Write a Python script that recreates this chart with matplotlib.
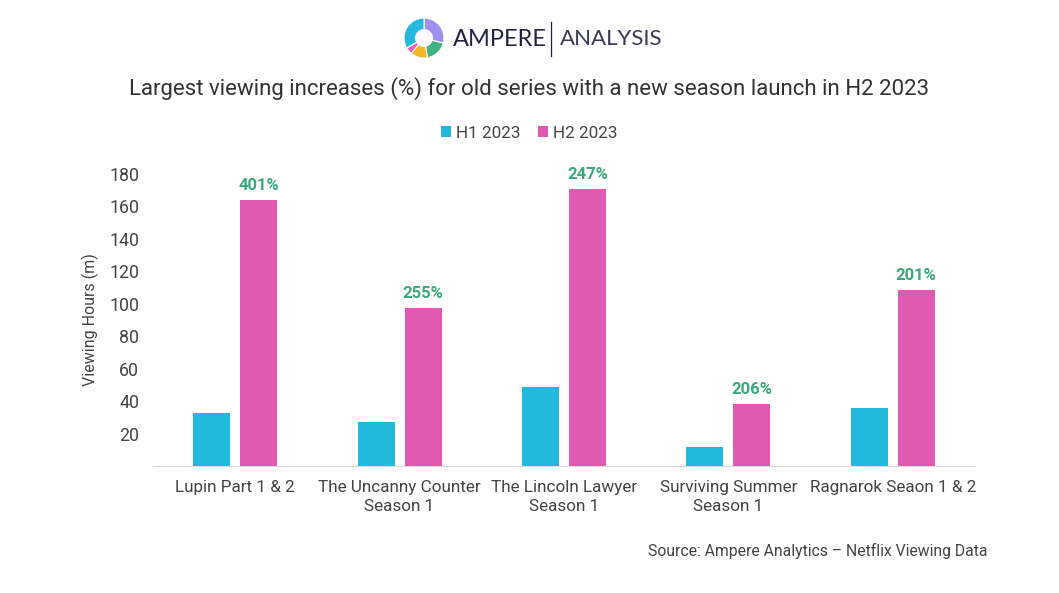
import matplotlib
matplotlib.use("Agg")
import matplotlib.pyplot as plt
import numpy as np

plt.rcParams["font.family"] = ["Roboto", "DejaVu Sans"]

# Data
categories = ["Lupin Part 1 & 2", "The Uncanny Counter\nSeason 1", "The Lincoln Lawyer\nSeason 1",
              "Surviving Summer\nSeason 1", "Ragnarok Seaon 1 & 2"]
h1_2023 = [32.5, 27, 48.5, 12, 35.5]
h2_2023 = [164, 97.5, 170.5, 38, 108.5]
increase_labels = ["401%", "255%", "247%", "206%", "201%"]
series_names = ["H1 2023", "H2 2023"]
yticks = [20, 40, 60, 80, 100, 120, 140, 160, 180]

# logo donut segments (degrees, colour)
logo_sizes = [105, 65, 50, 20, 120]
logo_colors = ["#a18ff0", "#3fb27f", "#f3b723", "#ea5fb9", "#24b9dc"]

C_H1 = "#22b8dc"
C_H2 = "#e05ab1"
C_LBL = "#3aa97d"
TXT = "#444444"

fig = plt.figure(figsize=(10.59, 5.93), dpi=100)
ax = fig.add_axes([153 / 1059, 1 - 466 / 593, (975 - 153) / 1059, (466 - 174) / 593])

x = np.arange(len(categories))
w = 0.225
off = 0.143
ax.bar(x - off, h1_2023, w, color=C_H1, label=series_names[0])
ax.bar(x + off, h2_2023, w, color=C_H2, label=series_names[1])
for xi, v, lab in zip(x, h2_2023, increase_labels):
    ax.text(xi + off, v + 4.5, lab, ha="center", va="bottom", color=C_LBL,
            fontsize=12, fontweight="bold", clip_on=False)

ax.set_xlim(-0.5, len(categories) - 0.5)
ax.set_ylim(0, 180)
ax.set_yticks(yticks)
ax.set_xticks(x)
ax.set_xticklabels(categories, fontsize=12.3, color=TXT, linespacing=1.35)
ax.tick_params(axis="y", length=0, labelsize=12.8, labelcolor=TXT, pad=10)
ax.tick_params(axis="x", length=0, pad=10)
for s in ["top", "right", "left"]:
    ax.spines[s].set_visible(False)
ax.spines["bottom"].set_color("#d9d9d9")
ax.set_ylabel("Viewing Hours (m)", fontsize=11.5, color=TXT, labelpad=7)

fig.legend(loc="center", bbox_to_anchor=(0.5, 1 - 133 / 593), ncol=2, frameon=False,
           fontsize=12.3, handlelength=0.6, handleheight=0.6, handletextpad=0.3,
           columnspacing=1.0, labelcolor=TXT)

fig.text(0.5, 1 - 89 / 593, "Largest viewing increases (%) for old series with a new season launch in H2 2023",
         ha="center", va="center", fontsize=16, color="#333333")
fig.text(987 / 1059, 1 - 551 / 593, "Source: Ampere Analytics \u2013 Netflix Viewing Data",
         ha="right", va="center", fontsize=11.3, color=TXT)

# logo
lax = fig.add_axes([404 / 1059, 1 - 58 / 593, 40 / 1059, 40 / 593])
lax.pie(logo_sizes, colors=logo_colors, startangle=90, counterclock=False, radius=1.0,
        wedgeprops=dict(width=0.58, edgecolor="white", linewidth=0.8))
lax.set_xlim(-1, 1)
lax.set_ylim(-1, 1)
lax.set_aspect("equal")
lax.axis("off")
fig.text(453 / 1059, 1 - 39 / 593, "AMPERE", ha="left", va="center", fontsize=17,
         color="#23233f", family=["Lato", "DejaVu Sans"])
fig.add_artist(plt.Line2D([551 / 1059, 551 / 1059], [1 - 22 / 593, 1 - 56 / 593],
                          color="#23233f", lw=0.9))
fig.text(560 / 1059, 1 - 39 / 593, "ANALYSIS", ha="left", va="center", fontsize=16,
         color="#3a3a55", family=["Lato", "DejaVu Sans"])

fig.savefig("out.png", dpi=100)
